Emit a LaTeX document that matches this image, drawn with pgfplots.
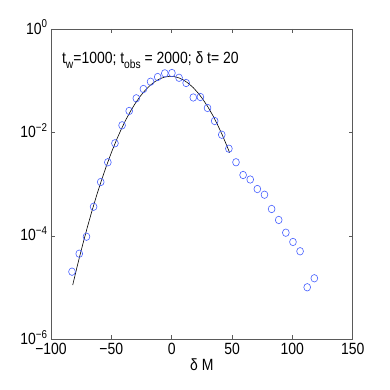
\documentclass[border=0pt]{standalone}
\usepackage{pgfplots}
\pgfplotsset{compat=1.18}
\usepackage{fontspec}
\setmainfont[FakeStretch=0.86]{Liberation Sans}
\definecolor{mblue}{RGB}{70,95,255}
\definecolor{axgray}{RGB}{90,90,90}
\begin{document}
\begin{tikzpicture}[x=1bp,y=1bp]
\begin{axis}[
  scale only axis,
  width=301.7bp, height=310.3bp,
  xmin=-100, xmax=150,
  ymode=log, ymin=1e-6, ymax=1,
  xtick={-100,-50,0,50,100,150},
  xticklabels={−100,−50,0,50,100,150},
  ytick={1e-6,1e-4,1e-2,1},
  yticklabels={10\textsuperscript{−6},10\textsuperscript{−4},10\textsuperscript{−2},10\textsuperscript{0}},
  minor tick num=0,
  tick align=inside,
  major tick length=4bp,
  axis line style={axgray, line width=0.8bp},
  every tick/.style={axgray, line width=0.6bp},
  tick label style={font=\fontsize{16.3}{18}\selectfont},
  yticklabel style={yshift=2bp},
  xlabel={δ M},
  xlabel style={font=\fontsize{16.3}{18}\selectfont, yshift=2bp},
  clip=false,
]
\addplot[black, line width=0.6bp] coordinates {
(-82,1.122e-5) (-78,2.75e-5) (-74,6.43e-5) (-70,1.435e-4) (-66,3.07e-4)
(-62,6.26e-4) (-58,1.222e-3) (-54,2.276e-3) (-50,4.06e-3) (-46,6.92e-3)
(-42,1.125e-2) (-38,1.75e-2) (-34,2.60e-2) (-30,3.70e-2) (-26,5.02e-2)
(-22,6.52e-2) (-18,8.07e-2) (-14,9.57e-2) (-10,0.1084) (-6,0.1175)
(-2,0.1214) (2,0.120) (6,0.1135) (10,0.1025) (14,0.0885) (18,0.0730)
(22,0.0575) (26,0.0433) (30,0.0312) (34,0.0215) (38,0.0141)
(42,8.87e-3) (46,5.32e-3) (48,4.06e-3)
};
\addplot[only marks, mark=o, mark size=3.4bp, mblue, mark options={line width=0.6bp, yscale=1.1}] coordinates {
(-82.6,2.03e-5) (-76.6,4.52e-5) (-70.6,9.64e-5) (-64.7,3.66e-4) (-58.8,1.10e-3)
(-52.9,2.65e-3) (-47.0,6.17e-3) (-41.1,1.374e-2) (-35.2,2.60e-2) (-29.3,4.57e-2)
(-23.4,6.92e-2) (-17.5,9.57e-2) (-11.6,0.118) (-5.7,0.139) (0.2,0.141)
(6.1,0.114) (12.0,0.0904) (17.9,0.0474) (23.8,0.0484) (29.7,0.0297)
(35.6,0.01663) (41.5,9.04e-3) (47.4,4.85e-3) (53.3,2.65e-3) (59.2,1.503e-3)
(65.1,1.230e-3) (71.0,8.05e-4) (76.9,6.25e-4) (82.8,3.31e-4) (88.7,2.03e-4)
(94.6,1.151e-4) (100.5,7.62e-5) (106.4,5.04e-5) (112.3,1.014e-5) (118.2,1.514e-5)
};
\node[anchor=base west, font=\fontsize{16.3}{18}\selectfont, inner sep=0pt] at (rel axis cs:0.036,0.89)
  {t\raisebox{-5pt}{\fontsize{12}{12}\selectfont w}=1000; t\raisebox{-5pt}{\fontsize{12}{12}\selectfont obs} = 2000; δ t= 20};
\end{axis}
\pgfresetboundingbox
\path[use as bounding box] (-51bp,-50.7bp) rectangle (339bp,339.3bp);
\end{tikzpicture}
\end{document}
